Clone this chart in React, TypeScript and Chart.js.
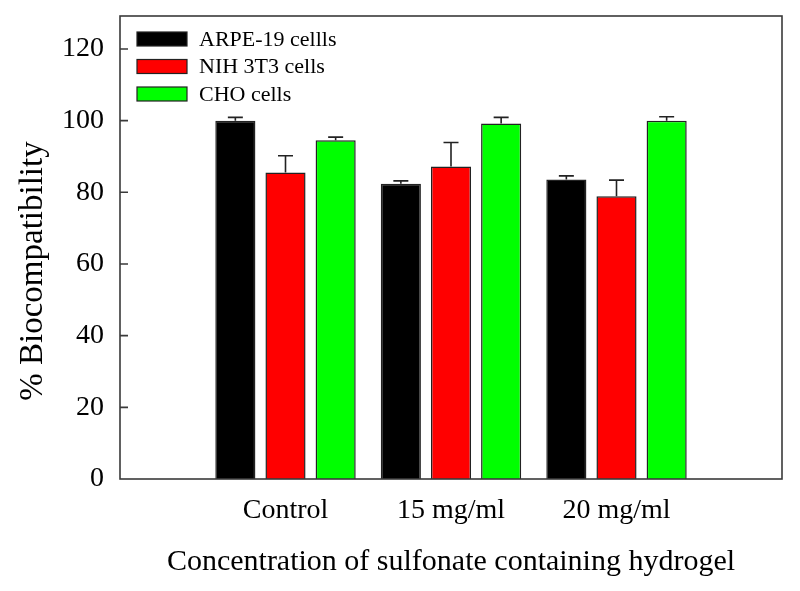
import { useEffect, useRef } from 'react';
import { Chart, registerables, Plugin } from 'chart.js';

Chart.register(...registerables);

const groups = ['Control', '15 mg/ml', '20 mg/ml'];
const groupPositions = [1, 2, 3];
const seriesNames = ['ARPE-19 cellls', 'NIH 3T3 cells', 'CHO cells'];
const arpeValues = [100.0, 82.4, 83.6];
const arpeErrors = [0.9, 0.8, 1.0];
const nihValues = [85.5, 87.2, 78.9];
const nihErrors = [4.7, 6.7, 4.5];
const choValues = [94.5, 99.2, 100.0];
const choErrors = [0.9, 1.7, 1.1];
const yTicks = [0, 20, 40, 60, 80, 100, 120];

const FONT = '"Liberation Serif", "Times New Roman", serif';
const INK = '#222';

const errorBars: Plugin<'bar'> = {
  id: 'errorBars',
  afterDatasetsDraw(chart) {
    const { ctx } = chart;
    const yScale = chart.scales.y;
    ctx.save();
    ctx.strokeStyle = INK;
    ctx.lineWidth = 1.6;
    chart.data.datasets.forEach((ds, i) => {
      const errs = (ds as any).errors as number[];
      const meta = chart.getDatasetMeta(i);
      meta.data.forEach((bar, j) => {
        const point = ds.data[j] as { x: number; y: number };
        const top = yScale.getPixelForValue(point.y);
        const end = yScale.getPixelForValue(point.y + errs[j]);
        ctx.beginPath();
        ctx.moveTo(bar.x, top);
        ctx.lineTo(bar.x, end);
        ctx.moveTo(bar.x - 7.5, end);
        ctx.lineTo(bar.x + 7.5, end);
        ctx.stroke();
      });
    });
    ctx.restore();
  }
};

const frame: Plugin<'bar'> = {
  id: 'frame',
  afterDraw(chart) {
    const { ctx, chartArea } = chart;
    const { left, top, right, bottom } = chartArea;
    const yScale = chart.scales.y;
    ctx.save();
    ctx.strokeStyle = '#3a3a3a';
    ctx.lineWidth = 1.6;
    ctx.strokeRect(left, top, right - left, bottom - top);
    ctx.beginPath();
    yTicks.forEach((v) => {
      if (v === 0) return;
      const y = yScale.getPixelForValue(v);
      ctx.moveTo(left, y);
      ctx.lineTo(left + 8, y);
    });
    ctx.stroke();

    // y axis title, sits a bit below the middle in the original
    ctx.fillStyle = '#000';
    ctx.font = `33px ${FONT}`;
    ctx.textAlign = 'center';
    ctx.textBaseline = 'alphabetic';
    ctx.translate(42, 271);
    ctx.rotate(-Math.PI / 2);
    ctx.fillText('% Biocompatibility', 0, 0);
    ctx.restore();
  }
};

const boxLegend: Plugin<'bar'> = {
  id: 'boxLegend',
  afterDraw(chart) {
    const { ctx } = chart;
    ctx.save();
    ctx.font = `22px ${FONT}`;
    ctx.textBaseline = 'middle';
    ctx.textAlign = 'left';
    chart.data.datasets.forEach((ds, i) => {
      const cy = 39 + i * 27.5;
      ctx.fillStyle = ds.backgroundColor as string;
      ctx.fillRect(137, cy - 7, 50, 14);
      ctx.strokeStyle = INK;
      ctx.lineWidth = 1.2;
      ctx.strokeRect(137, cy - 7, 50, 14);
      ctx.fillStyle = '#000';
      ctx.fillText(ds.label as string, 199, cy + 1);
    });
    ctx.restore();
  }
};

export default function App() {
  const canvas = useRef<HTMLCanvasElement | null>(null);

  useEffect(() => {
    const node = canvas.current;
    if (!node) {
      return;
    }

    const toPoints = (vals: number[]) => vals.map((v, i) => ({ x: groupPositions[i], y: v }));

    const chart = new Chart(node, {
      type: 'bar',
      data: {
        datasets: [
          {
            label: seriesNames[0],
            data: toPoints(arpeValues),
            errors: arpeErrors,
            backgroundColor: '#000000'
          },
          {
            label: seriesNames[1],
            data: toPoints(nihValues),
            errors: nihErrors,
            backgroundColor: '#ff0000'
          },
          {
            label: seriesNames[2],
            data: toPoints(choValues),
            errors: choErrors,
            backgroundColor: '#00ff00'
          }
        ].map((d) => ({
          ...d,
          borderColor: INK,
          borderWidth: 1.5,
          categoryPercentage: 0.909,
          barPercentage: 0.8
        })) as any
      },
      options: {
        responsive: false,
        animation: false,
        layout: { padding: { top: 16, right: 18, left: 0, bottom: 0 } },
        plugins: {
          legend: { display: false },
          tooltip: { enabled: false }
        },
        scales: {
          x: {
            type: 'linear',
            min: 0,
            max: 4,
            offset: false,
            grid: { display: false, drawTicks: false },
            border: { display: false },
            afterBuildTicks: (scale) => {
              scale.ticks = groupPositions.map((v) => ({ value: v }));
            },
            afterFit: (scale) => {
              scale.height = 112;
            },
            ticks: {
              padding: 15,
              color: '#000',
              font: { family: FONT, size: 28 },
              callback: (v) => groups[groupPositions.indexOf(Number(v))] ?? ''
            },
            title: {
              display: true,
              text: 'Concentration of sulfonate containing hydrogel',
              color: '#000',
              font: { family: FONT, size: 30 },
              padding: { top: 0, bottom: 11 }
            }
          },
          y: {
            min: 0,
            max: 129.2,
            grid: { display: false, drawTicks: false },
            border: { display: false },
            afterFit: (scale) => {
              scale.width = 120;
              scale.paddingTop = 0;
              scale.paddingBottom = 0;
            },
            ticks: {
              stepSize: 20,
              includeBounds: false,
              padding: 16,
              color: '#000',
              font: { family: FONT, size: 28 }
            }
          }
        }
      },
      plugins: [errorBars, frame, boxLegend]
    });

    return () => {
      chart.destroy();
    };
  }, []);

  return (
    <div style={{ position: 'absolute', left: 0, top: 0, width: 800, height: 591, background: '#fff' }}>
      <canvas ref={canvas} width={800} height={591} role="img" aria-label="Biocompatibility bar chart" />
    </div>
  );
}
